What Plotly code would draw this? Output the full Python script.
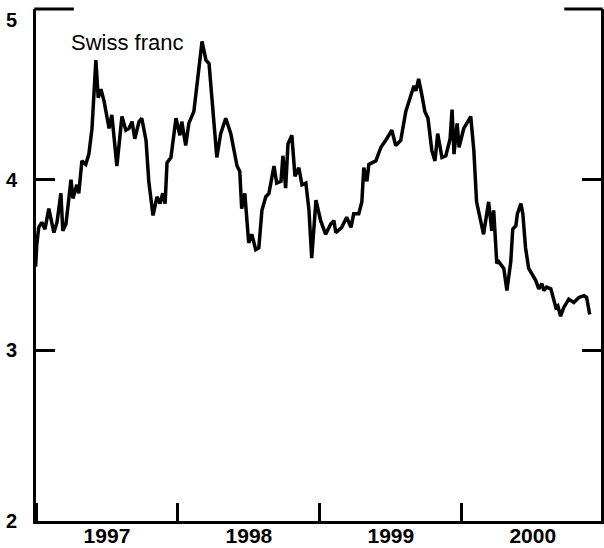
import plotly.graph_objects as go

# Swiss franc exchange rate
dates = [
    "1996-12-31", "1997-01-03", "1997-01-08", "1997-01-16", "1997-01-24", "1997-02-03",
    "1997-02-16", "1997-02-24", "1997-03-06", "1997-03-11", "1997-03-19", "1997-04-01",
    "1997-04-06", "1997-04-16", "1997-04-21", "1997-04-29", "1997-05-09", "1997-05-17",
    "1997-05-25", "1997-06-04", "1997-06-10", "1997-06-17", "1997-06-25", "1997-07-08",
    "1997-07-15", "1997-07-28", "1997-08-10", "1997-08-20", "1997-08-28", "1997-09-05",
    "1997-09-12", "1997-09-23", "1997-09-30", "1997-10-11", "1997-10-18", "1997-10-29",
    "1997-11-08", "1997-11-16", "1997-11-23", "1997-11-29", "1997-12-04", "1997-12-14",
    "1997-12-27",
    "1998-01-06", "1998-01-11", "1998-01-21", "1998-01-29", "1998-02-11", "1998-03-04",
    "1998-03-14", "1998-03-22", "1998-04-11", "1998-04-21", "1998-05-04", "1998-05-17",
    "1998-06-02", "1998-06-09", "1998-06-14", "1998-06-22", "1998-07-02", "1998-07-10",
    "1998-07-20", "1998-07-28", "1998-08-05", "1998-08-15", "1998-08-23", "1998-09-05",
    "1998-09-12", "1998-09-23", "1998-09-28", "1998-10-05", "1998-10-11", "1998-10-21",
    "1998-10-29", "1998-11-08", "1998-11-16", "1998-11-26", "1998-12-04", "1998-12-11",
    "1998-12-22",
    "1999-01-03", "1999-01-16", "1999-01-29", "1999-02-06", "1999-02-11", "1999-02-26",
    "1999-03-11", "1999-03-22", "1999-03-29", "1999-04-11", "1999-04-19", "1999-04-24",
    "1999-05-02", "1999-05-07", "1999-05-25", "1999-06-07", "1999-06-22", "1999-07-05",
    "1999-07-15", "1999-07-28", "1999-08-10", "1999-08-23", "1999-08-31", "1999-09-05",
    "1999-09-12", "1999-09-20", "1999-09-28", "1999-10-06", "1999-10-16", "1999-10-24",
    "1999-10-31", "1999-11-11", "1999-11-21", "1999-12-02", "1999-12-07", "1999-12-12",
    "1999-12-20", "1999-12-25",
    "2000-01-06", "2000-01-24", "2000-02-01", "2000-02-08", "2000-02-19", "2000-02-26",
    "2000-03-10", "2000-03-18", "2000-03-23", "2000-03-31", "2000-04-05", "2000-04-18",
    "2000-04-26", "2000-05-06", "2000-05-11", "2000-05-19", "2000-05-23", "2000-06-01",
    "2000-06-06", "2000-06-13", "2000-06-21", "2000-06-29", "2000-07-09", "2000-07-17",
    "2000-07-25", "2000-07-30", "2000-08-06", "2000-08-17", "2000-08-30", "2000-09-04",
    "2000-09-11", "2000-09-19", "2000-10-02", "2000-10-15", "2000-10-28", "2000-11-10",
    "2000-11-17", "2000-11-25",
]

swiss_franc = [
    3.49, 3.62, 3.72, 3.75, 3.71, 3.83,
    3.69, 3.75, 3.92, 3.70, 3.74, 4.00,
    3.89, 3.97, 3.92, 4.11, 4.09, 4.15,
    4.30, 4.70, 4.48, 4.53, 4.46, 4.30,
    4.38, 4.08, 4.37, 4.29, 4.30, 4.34,
    4.24, 4.34, 4.36, 4.23, 3.99, 3.79,
    3.90, 3.86, 3.92, 3.86, 4.10, 4.13,
    4.36,
    4.26, 4.34, 4.20, 4.33, 4.40, 4.81,
    4.70, 4.68, 4.13, 4.27, 4.36, 4.27,
    4.08, 4.05, 3.83, 3.92, 3.63, 3.68,
    3.59, 3.60, 3.82, 3.90, 3.92, 4.08,
    3.98, 3.99, 4.14, 3.95, 4.21, 4.26,
    4.02, 4.07, 3.97, 3.98, 3.82, 3.54,
    3.88,
    3.76, 3.68, 3.74, 3.76, 3.69, 3.72,
    3.78, 3.72, 3.80, 3.80, 3.87, 4.07,
    3.99, 4.09, 4.11, 4.19, 4.24, 4.29,
    4.20, 4.23, 4.40, 4.50, 4.55, 4.52,
    4.59, 4.50, 4.40, 4.36, 4.17, 4.11,
    4.27, 4.13, 4.14, 4.24, 4.41, 4.15,
    4.33, 4.19,
    4.30, 4.37, 4.17, 3.87, 3.76, 3.68,
    3.87, 3.70, 3.82, 3.51, 3.52, 3.48,
    3.35, 3.52, 3.71, 3.73, 3.80, 3.86,
    3.80, 3.60, 3.48, 3.45, 3.41, 3.36,
    3.39, 3.35, 3.37, 3.36, 3.25, 3.26,
    3.20, 3.25, 3.30, 3.28, 3.31, 3.32,
    3.31, 3.21,
]

y_ticks = [2, 3, 4, 5]
y_ticktext = ["2", "3", "4", ""]
series_label = "Swiss franc"

FONT = "Liberation Sans, Arial, Helvetica, sans-serif"

fig = go.Figure()
fig.add_trace(go.Scatter(
    x=dates, y=swiss_franc, mode="lines",
    line=dict(color="black", width=3.5),
    showlegend=False, hoverinfo="skip",
))

fig.update_layout(
    width=604, height=548,
    margin=dict(l=36, r=3, t=9, b=27),
    paper_bgcolor="white", plot_bgcolor="white",
    font=dict(family=FONT, color="black"),
    showlegend=False,
)

fig.update_xaxes(
    type="date",
    range=["1997-01-01", "2000-12-24"],
    tick0="1997-01-01", dtick="M12",
    ticklabelmode="period", tickformat="%Y",
    ticks="inside", ticklen=18, tickwidth=3, tickcolor="black",
    showline=True, linewidth=3, linecolor="black", mirror=False,
    showgrid=False, zeroline=False, automargin=False,
    ticklabelstandoff=-6,
    tickfont=dict(size=21, family=FONT, color="black", weight="bold"),
)

fig.update_yaxes(
    range=[2, 5],
    tickvals=y_ticks, ticktext=y_ticktext,
    ticks="inside", ticklen=19, tickwidth=3, tickcolor="black",
    showline=True, linewidth=3, linecolor="black", mirror="ticks",
    showgrid=False, zeroline=False, automargin=False,
    ticklabelstandoff=12,
    tickfont=dict(size=20, family=FONT, color="black", weight="bold"),
)

# longer top tick segments at 5 (left and right)
for x0, x1 in [(-0.003, 0.067), (0.935, 1.003)]:
    fig.add_shape(type="line", xref="paper", yref="paper", x0=x0, x1=x1, y0=1, y1=1,
                  layer="above", line=dict(color="black", width=3))

# top "5" label sits a little lower in the reference
fig.add_annotation(text="5", xref="paper", yref="paper", x=-0.03, y=0.978,
                   xanchor="right", yanchor="middle", showarrow=False,
                   font=dict(size=20, family=FONT, color="black", weight="bold"))

fig.add_annotation(text=series_label, xref="paper", yref="paper", x=0.058, y=0.934,
                   xanchor="left", yanchor="middle", showarrow=False,
                   font=dict(size=22, family=FONT, color="black"))

fig.write_html(
    "out.html",
    config={"displayModeBar": False},
    post_script="document.body.style.margin='0';document.body.style.padding='0';",
)
